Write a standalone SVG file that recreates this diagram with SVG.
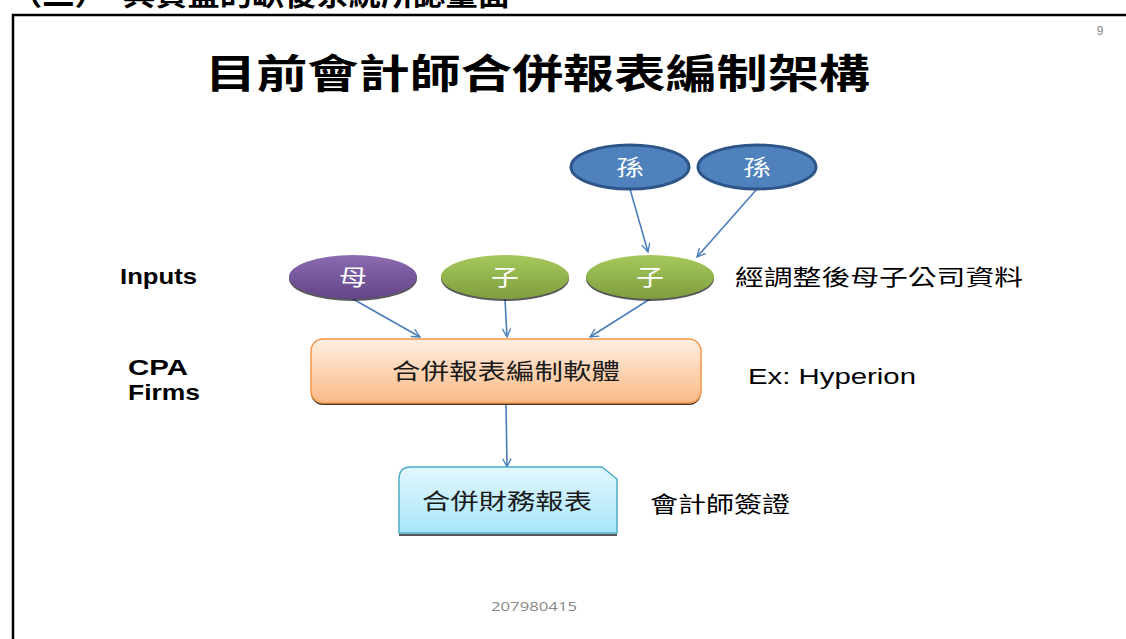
<svg xmlns="http://www.w3.org/2000/svg" width="1126" height="639" viewBox="0 0 1126 639">
<style>
.cjk{font-family:"Liberation Sans","Noto Sans CJK TC",sans-serif}
.lbl{font-size:22px;fill:#000}
.nodeT{font-size:22px;fill:#fff;text-anchor:middle}
.boxT{font-size:22px;fill:#1a1a1a;text-anchor:middle}
.conn{stroke:#4A7EBB;stroke-width:1.6;fill:none;marker-end:url(#ah)}
.shadow{fill:#222;opacity:0.75}
</style>
<defs>
<marker id="ah" viewBox="0 0 12 12" refX="11" refY="6" markerWidth="10" markerHeight="10" markerUnits="userSpaceOnUse" orient="auto">
<path d="M1,1 L11,6 L1,11" fill="none" stroke="#4A7EBB" stroke-width="1.6"/>
</marker>
<linearGradient id="gPur" x1="0" y1="0" x2="0" y2="1"><stop offset="0" stop-color="#8B6CB0"/><stop offset="1" stop-color="#634487"/></linearGradient>
<linearGradient id="gGrn" x1="0" y1="0" x2="0" y2="1"><stop offset="0" stop-color="#A6C95C"/><stop offset="1" stop-color="#7E9E3E"/></linearGradient>
<linearGradient id="gOrg" x1="0" y1="0" x2="0" y2="1"><stop offset="0" stop-color="#FEEFE2"/><stop offset="1" stop-color="#FBB985"/></linearGradient>
<linearGradient id="gCyn" x1="0" y1="0" x2="0" y2="1"><stop offset="0" stop-color="#E2F7FD"/><stop offset="1" stop-color="#A8E6FA"/></linearGradient>
</defs>
<rect width="1126" height="639" fill="#fff"/>
<text class="cjk" x="10" y="5" font-size="30" font-weight="bold" textLength="500" lengthAdjust="spacingAndGlyphs">（二）　與資盤的缺後系統所認量面</text>
<path d="M13,639 L13,15 L1126,15" fill="none" stroke="#000" stroke-width="2.5"/>
<text x="1100" y="35" font-family="Liberation Sans,sans-serif" font-size="12" fill="#888" text-anchor="middle">9</text>
<text class="cjk" x="205" y="88" font-size="40" font-weight="bold" textLength="665" lengthAdjust="spacingAndGlyphs">目前會計師合併報表編制架構</text>

<g id="connectors">
<line class="conn" x1="630" y1="189" x2="648" y2="252"/>
<line class="conn" x1="757" y1="189" x2="697" y2="257"/>
<line class="conn" x1="353" y1="299" x2="420" y2="337"/>
<line class="conn" x1="505" y1="299" x2="507" y2="337"/>
<line class="conn" x1="650" y1="299" x2="590" y2="337"/>
<line class="conn" x1="506" y1="404" x2="507" y2="467"/>
</g>

<g id="sun1">
<ellipse cx="630" cy="167" rx="59" ry="22" fill="#4F81BD" stroke="#2E5587" stroke-width="3"/>
<text class="cjk nodeT" x="630" y="175" textLength="28" lengthAdjust="spacingAndGlyphs">孫</text>
</g>
<g id="sun2">
<ellipse cx="757" cy="167" rx="59" ry="22" fill="#4F81BD" stroke="#2E5587" stroke-width="3"/>
<text class="cjk nodeT" x="757" y="175" textLength="28" lengthAdjust="spacingAndGlyphs">孫</text>
</g>
<g id="mu">
<ellipse class="shadow" cx="353" cy="279" rx="64" ry="22"/>
<ellipse cx="353" cy="277" rx="64" ry="22" fill="url(#gPur)"/>
<text class="cjk nodeT" x="353" y="285" textLength="28" lengthAdjust="spacingAndGlyphs">母</text>
</g>
<g id="zi1">
<ellipse class="shadow" cx="505" cy="279" rx="64" ry="22"/>
<ellipse cx="505" cy="277" rx="64" ry="22" fill="url(#gGrn)"/>
<text class="cjk nodeT" x="505" y="285" textLength="28" lengthAdjust="spacingAndGlyphs">子</text>
</g>
<g id="zi2">
<ellipse class="shadow" cx="650" cy="279" rx="64" ry="22"/>
<ellipse cx="650" cy="277" rx="64" ry="22" fill="url(#gGrn)"/>
<text class="cjk nodeT" x="650" y="285" textLength="28" lengthAdjust="spacingAndGlyphs">子</text>
</g>

<g id="software">
<rect x="311" y="341" width="390" height="64" rx="12" fill="#333"/>
<rect x="311" y="339" width="390" height="64" rx="12" fill="url(#gOrg)" stroke="#F79646" stroke-width="1.5"/>
<text class="cjk boxT" x="506" y="379" textLength="228" lengthAdjust="spacingAndGlyphs">合併報表編制軟體</text>
</g>

<g id="report">
<path d="M399,535 L617,535" stroke="#555" stroke-width="2"/>
<path d="M411,467 L602,467 L617,479 L617,533 L399,533 L399,479 Q399,467 411,467 Z" fill="url(#gCyn)" stroke="#4BACC6" stroke-width="1.5"/>
<text class="cjk boxT" x="507" y="509" textLength="170" lengthAdjust="spacingAndGlyphs">合併財務報表</text>
</g>

<g id="labels">
<text class="cjk lbl" x="120" y="284" font-weight="bold" textLength="77" lengthAdjust="spacingAndGlyphs">Inputs</text>
<text class="cjk lbl" x="735" y="285" textLength="288" lengthAdjust="spacingAndGlyphs">經調整後母子公司資料</text>
<text class="cjk lbl" x="128" y="375" font-weight="bold" textLength="60" lengthAdjust="spacingAndGlyphs">CPA</text>
<text class="cjk lbl" x="128" y="400" font-weight="bold" textLength="72" lengthAdjust="spacingAndGlyphs">Firms</text>
<text class="cjk lbl" x="748" y="384" textLength="168" lengthAdjust="spacingAndGlyphs">Ex: Hyperion</text>
<text class="cjk lbl" x="650" y="512" textLength="140" lengthAdjust="spacingAndGlyphs">會計師簽證</text>
</g>
<text x="534" y="611" font-family="Open Sans,Liberation Sans,sans-serif" font-size="13" fill="#888" text-anchor="middle" textLength="86" lengthAdjust="spacingAndGlyphs">207980415</text>
</svg>
